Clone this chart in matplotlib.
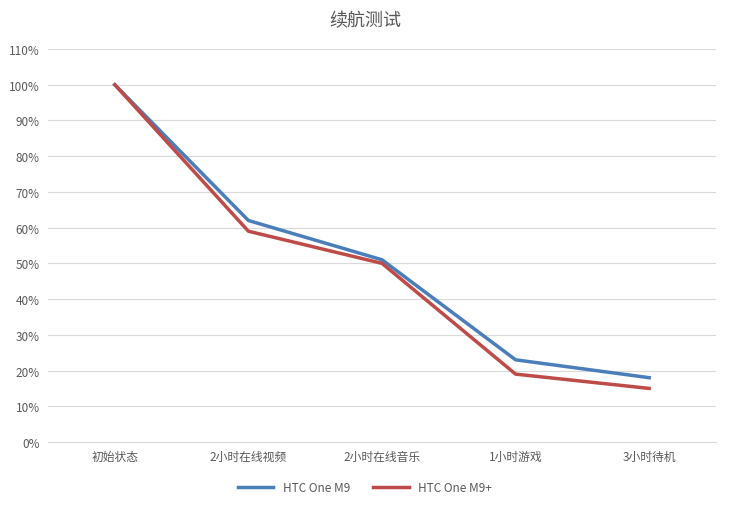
import matplotlib
matplotlib.use("Agg")
import matplotlib.pyplot as plt
from matplotlib.ticker import FuncFormatter

plt.rcParams['font.family'] = ['Noto Sans CJK SC', 'DejaVu Sans']

categories = ["初始状态", "2小时在线视频", "2小时在线音乐", "1小时游戏", "3小时待机"]
m9 = [100, 62, 51, 23, 18]
m9plus = [100, 59, 50, 19, 15]

fig = plt.figure(figsize=(7.30, 5.06), dpi=100)
ax = fig.add_axes([48/730, 1-443/506, 668/730, 393/506])
x = range(len(categories))
ax.plot(x, m9, color='#4A7EBB', lw=2.5, label='HTC One M9')
ax.plot(x, m9plus, color='#BE4B48', lw=2.5, label='HTC One M9+')
ax.set_xlim(-0.5, 4.5)
ax.set_ylim(0, 110)
ax.set_yticks(range(0, 111, 10))
ax.yaxis.set_major_formatter(FuncFormatter(lambda v, p: f"{int(v)}%"))
ax.set_xticks(list(x))
ax.set_xticklabels(categories)
ax.grid(axis='y', color='#D9D9D9', lw=0.8)
ax.set_axisbelow(True)
for s in ['top', 'right', 'left']:
    ax.spines[s].set_visible(False)
ax.spines['bottom'].set_color('#D9D9D9')
ax.tick_params(length=0, labelsize=8.5, colors='#595959', pad=6)
fig.suptitle("续航测试", y=0.975, fontsize=13, color='#595959')
fig.legend(loc='lower center', ncol=2, frameon=False, fontsize=8.5,
           bbox_to_anchor=(0.5, 0.0), handlelength=3, labelcolor='#595959')
fig.savefig("out.png", dpi=100)
